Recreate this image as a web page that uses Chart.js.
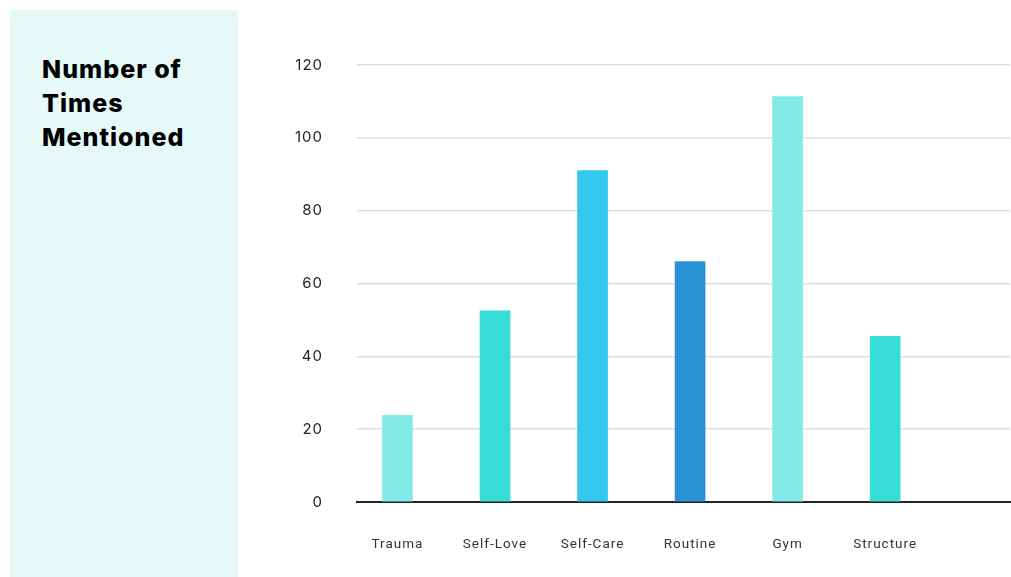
<!DOCTYPE html>
<html>
<head>
<meta charset="utf-8">
<script src="https://cdn.jsdelivr.net/npm/chart.js@4"></script>
<style>
  html, body { margin: 0; padding: 0; background: #fff; overflow: hidden; }
  #side {
    position: absolute; left: 10px; top: 10px; width: 228px; height: 567px;
    background: #e6f9f9;
  }
  #side h1 {
    position: absolute; left: 32px; top: 42px; margin: 0;
    font-family: Inter, sans-serif; font-weight: 800; font-size: 25px;
    letter-spacing: 1px; line-height: 34px; color: #000;
  }
  #wrap { position: absolute; left: 240px; top: 0; width: 771px; height: 577px; }
</style>
</head>
<body>
<div id="side"><h1>Number of<br>Times<br>Mentioned</h1></div>
<div id="wrap"><canvas id="chart"></canvas></div>
<script>
let categories = ["Trauma", "Self-Love", "Self-Care", "Routine", "Gym", "Structure"];
let mentions = [23.8, 52.5, 91, 66, 111.3, 45.5];
let barColors = ["#84eae8", "#38dcd7", "#33c9ee", "#2a92d4", "#84eae8", "#38dcd7"];
let yTicks = [0, 20, 40, 60, 80, 100, 120];

// linear x so the plot area can run past the last bar like the original
let points = mentions.map((v, i) => ({x: i, y: v}));

let spacing = {
    id: 'spacing',
    beforeDraw(chart) { chart.ctx.letterSpacing = '1px'; }
};

var ctx = document.getElementById('chart');
var chart = new Chart(ctx, {
    type: 'bar',
    data: {
        datasets: [{
            data: points,
            backgroundColor: barColors,
            barThickness: 30,
            borderWidth: 0
        }]
    },
    options: {
        responsive: true,
        maintainAspectRatio: false,
        animation: false,
        layout: { padding: { top: 65, right: 1, left: 0, bottom: 0 } },
        plugins: { legend: { display: false }, tooltip: { enabled: false } },
        scales: {
            x: {
                type: 'linear',
                offset: false,
                min: -0.415,
                max: 6.28,
                z: 1,
                grid: { display: false },
                border: { color: '#222', width: 2 },
                afterFit: s => { s.height = 75; },
                ticks: {
                    stepSize: 1,
                    includeBounds: false,
                    padding: 27,
                    color: '#333',
                    font: { family: 'Roboto', size: 13.5 },
                    callback: v => categories[v] || ''
                }
            },
            y: {
                min: 0,
                max: 120,
                afterFit: s => { s.width = 117; },
                afterBuildTicks: s => { s.ticks = yTicks.map(v => ({value: v})); },
                grid: { color: '#dedede', lineWidth: 1.5, drawTicks: false },
                border: { display: false },
                ticks: {
                    padding: 34,
                    color: '#222',
                    font: { family: 'Inter', size: 15 }
                }
            }
        }
    },
    plugins: [spacing]
});
</script>
</body>
</html>
